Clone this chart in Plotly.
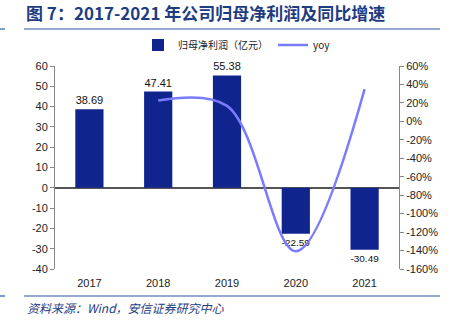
import plotly.graph_objects as go

years = ["2017", "2018", "2019", "2020", "2021"]
profit = [38.69, 47.41, 55.38, -22.59, -30.49]
profit_labels = ["38.69", "47.41", "55.38", "-22.59", "-30.49"]
yoy_years = ["2018", "2019", "2020", "2021"]
yoy = [0.225, 0.168, -1.408, 0.350]

left_ticks = [60, 50, 40, 30, 20, 10, 0, -10, -20, -30, -40]
left_labels = ["60", "50", "40", "30", "20", "10", "0", "-10", "-20", "-30", "-40"]
right_ticks = [0.6, 0.4, 0.2, 0.0, -0.2, -0.4, -0.6, -0.8, -1.0, -1.2, -1.4, -1.6]
right_labels = ["60%", "40%", "20%", "0%", "-20%", "-40%", "-60%", "-80%",
                "-100%", "-120%", "-140%", "-160%"]

L, R, T, B = 55, 399, 66, 269
W, H = 450, 327
pw, ph = R - L, B - T

def px(x):
    return (x - L) / pw

def py(y):
    return (B - y) / ph

navy = "#10248E"
lineblue = "#7B7BFF"
dark = "#1E3C82"

fig = go.Figure()
fig.add_trace(go.Bar(
    x=years, y=profit, name="归母净利润（亿元）",
    marker=dict(color=navy, line=dict(width=0)),
    width=0.41,
    text=profit_labels, textposition="outside",
    textfont=dict(family="Liberation Sans", size=11, color="#111"),
    cliponaxis=False,
))
fig.add_trace(go.Scatter(
    x=yoy_years, y=yoy, name="yoy", yaxis="y2", mode="lines",
    line=dict(color=lineblue, width=2.5, shape="spline", smoothing=1.0),
))

fig.update_layout(
    width=W, height=H,
    margin=dict(l=L, r=W - R, t=T, b=H - B),
    paper_bgcolor="white", plot_bgcolor="white",
    font=dict(family="Liberation Sans, Noto Sans CJK SC", size=11, color="#222"),
    showlegend=True,
    legend=dict(orientation="h", x=px(138), y=py(45), xanchor="left", yanchor="middle",
                font=dict(family="Noto Sans CJK SC, Liberation Sans", size=10, color="#222"),
                bgcolor="rgba(0,0,0,0)", itemwidth=30, tracegroupgap=0),
    title=dict(text="<b>图 7：2017-2021 年公司归母净利润及同比增速</b>",
               x=26 / W, xanchor="left", xref="container",
               y=1 - 14 / H, yanchor="middle",
               font=dict(family="Noto Sans CJK SC", size=17, color=dark)),
    xaxis=dict(type="category", range=[-0.5, 4.5], showline=False, ticks="",
               ticklabelstandoff=6,
               tickfont=dict(family="Liberation Sans", size=11, color="#222")),
    yaxis=dict(range=[-40, 60], tickvals=left_ticks, ticktext=left_labels,
               showgrid=False, zeroline=True,
               zerolinecolor="#555", zerolinewidth=1.5,
               showline=True, linecolor="#888", linewidth=1, ticks="outside",
               ticklen=4, tickcolor="#888",
               tickfont=dict(family="Liberation Sans", size=11, color="#222")),
    yaxis2=dict(range=[-1.6, 0.6], tickvals=right_ticks, ticktext=right_labels,
                overlaying="y",
                side="right", showgrid=False, zeroline=False,
                showline=True, linecolor="#888", linewidth=1, ticks="outside",
                ticklen=4, tickcolor="#888",
                tickfont=dict(family="Liberation Sans", size=11, color="#222")),
)

line_col = "#2F55A8"
for yy in (29, 296):
    fig.add_shape(type="line", xref="paper", yref="paper",
                  x0=px(24), x1=px(440), y0=py(yy), y1=py(yy),
                  line=dict(color=line_col, width=1.2))
    fig.add_shape(type="line", xref="paper", yref="paper",
                  x0=px(0), x1=px(5), y0=py(yy), y1=py(yy),
                  line=dict(color=line_col, width=1.2))

fig.add_annotation(text="<i>资料来源：Wind，安信证券研究中心</i>", xref="paper", yref="paper",
                   x=px(25), y=py(307), xanchor="left", yanchor="middle", showarrow=False,
                   font=dict(family="Noto Sans CJK SC, Liberation Sans", size=12, color=dark))

fig.write_html("out.html")
